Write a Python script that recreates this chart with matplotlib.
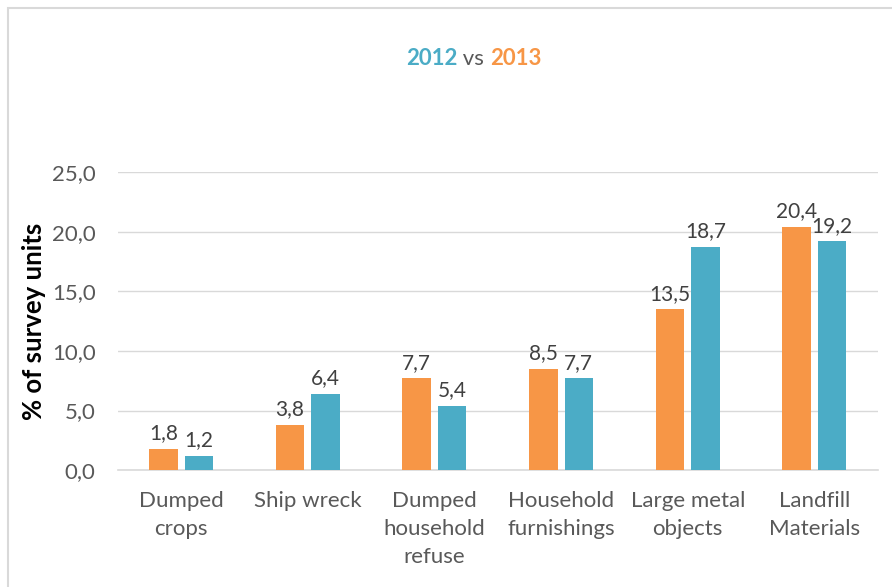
import numpy as np
import matplotlib.pyplot as plt
from matplotlib.patches import Rectangle

categories = ['Dumped\ncrops', 'Ship wreck', 'Dumped\nhousehold\nrefuse',
              'Household\nfurnishings', 'Large metal\nobjects', 'Landfill\nMaterials']
values_2013 = [1.8, 3.8, 7.7, 8.5, 13.5, 20.4]
values_2012 = [1.2, 6.4, 5.4, 7.7, 18.7, 19.2]
yticks = [0, 5, 10, 15, 20, 25]

ORANGE = '#F79646'
BLUE = '#4BACC6'
GREY_TEXT = '#595959'

plt.rcParams['font.family'] = ['Lato', 'DejaVu Sans']

fig = plt.figure(figsize=(8.92, 5.87), dpi=100)
fig.patches.append(Rectangle((8 / 892, -0.05), 1.2, 1 - 8 / 587 + 0.05,
                             transform=fig.transFigure, fill=False,
                             edgecolor='#D9D9D9', linewidth=1.5))

ax = fig.add_axes([0.132, 0.199, 0.852, 0.508])
x = np.arange(len(categories))
w = 0.225
off = 0.14

b1 = ax.bar(x - off, values_2013, w, color=ORANGE, zorder=3)
b2 = ax.bar(x + off, values_2012, w, color=BLUE, zorder=3)

for bars, vals in ((b1, values_2013), (b2, values_2012)):
    for rect, v in zip(bars, vals):
        ax.annotate(f'{v:.1f}'.replace('.', ','),
                    (rect.get_x() + rect.get_width() / 2, v),
                    xytext=(0, 4), textcoords='offset points',
                    ha='center', va='bottom', fontsize=15, color='#404040')

ax.set_xlim(-0.5, len(categories) - 0.5)
ax.set_ylim(0, 25)
ax.set_yticks(yticks)
ax.set_yticklabels([f'{t:.1f}'.replace('.', ',') for t in yticks],
                   fontsize=16, color=GREY_TEXT)
ax.set_xticks(x)
ax.set_xticklabels(categories, fontsize=16, color=GREY_TEXT, linespacing=1.5,
                   va='top')
ax.tick_params(axis='y', length=0, pad=16)
ax.tick_params(axis='x', length=0, pad=15)
ax.grid(axis='y', color='#D9D9D9', linewidth=1, zorder=0)
for s in ('top', 'right', 'left'):
    ax.spines[s].set_visible(False)
ax.spines['bottom'].set_color('#D9D9D9')
ax.spines['bottom'].set_linewidth(1.2)

ax.set_ylabel('% of survey units', fontsize=18.5, fontweight='bold',
              color='black', labelpad=4)

# title made of three coloured pieces
t1 = fig.text(0.455, 0.9, '2012', fontsize=16, fontweight='bold', color=BLUE,
              ha='left', va='center')
t2 = ax.annotate(' vs ', xy=(1, 0), xycoords=t1, fontsize=16, color=GREY_TEXT,
                 va='bottom')
t3 = ax.annotate('2013', xy=(1, 0), xycoords=t2, fontsize=16, fontweight='bold',
                 color=ORANGE, va='bottom')

fig.savefig('out.png', dpi=100)
